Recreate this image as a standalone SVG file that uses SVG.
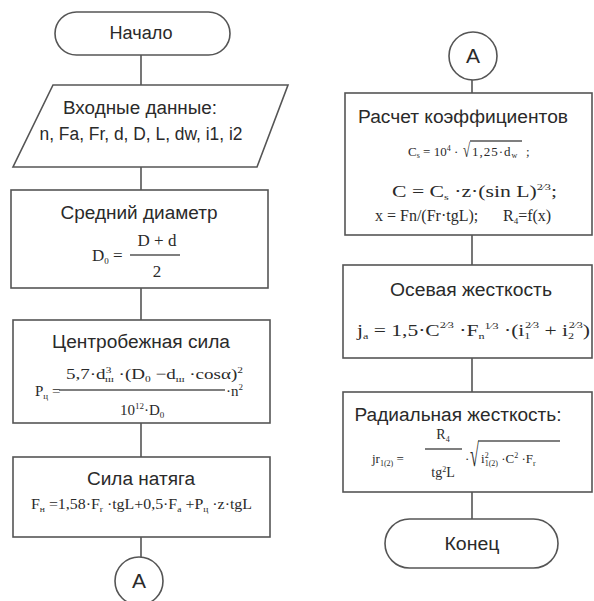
<svg xmlns="http://www.w3.org/2000/svg" width="594" height="601" viewBox="0 0 594 601">
<style>
.ln{stroke:#555;stroke-width:1.6;fill:none}
.sh{fill:#fff;stroke:#555;stroke-width:1.6}
.t{font-family:"Liberation Sans",Arial,sans-serif;font-size:18px;fill:#2a2a2a;text-anchor:middle}
.m{font-family:"Liberation Serif","Times New Roman",serif;font-size:15px;fill:#2a2a2a}
.s{font-size:9px}
.s7{font-size:8px}
.s8{font-size:8px}
.c{text-anchor:middle}
</style>
<rect width="594" height="601" fill="#fff"/>
<g id="connectors">
<path class="ln" d="M141 55V85M141 167V190M141 288V320M141 423V457M141 537V557"/>
<path class="ln" d="M472 80V93M472 235V265M472 358V392M472 492V519"/>
</g>
<g id="start">
<rect class="sh" x="55" y="12" width="175" height="43" rx="21.5"/>
<text class="t" x="141" y="39" textLength="63" lengthAdjust="spacingAndGlyphs">Начало</text>
</g>
<g id="input">
<polygon class="sh" points="53,85 288,85 257,167 13,167"/>
<text class="t" x="140" y="114" textLength="154" lengthAdjust="spacingAndGlyphs">Входные данные:</text>
<text class="t" x="141" y="140" textLength="203" lengthAdjust="spacingAndGlyphs">n, Fa, Fr, d, D, L, dw, i1, i2</text>
</g>
<g id="mean-diameter">
<rect class="sh" x="11" y="190" width="257" height="98"/>
<text class="t" x="139" y="219" textLength="157" lengthAdjust="spacingAndGlyphs">Средний диаметр</text>
<text class="m" x="92" y="261" style="font-size:17px">D<tspan class="s" dy="3">0</tspan><tspan dy="-3"> =</tspan></text>
<line class="ln" x1="130" y1="255" x2="180" y2="255" stroke-width="1.2"/>
<text class="m c" x="157" y="246" style="font-size:17px">D + d</text>
<text class="m c" x="157" y="277" style="font-size:17px">2</text>
</g>
<g id="centrifugal">
<rect class="sh" x="13" y="320" width="257" height="103"/>
<text class="t" x="141" y="348" textLength="178" lengthAdjust="spacingAndGlyphs">Центробежная сила</text>
<text class="m" x="35" y="396">P<tspan class="s" dy="3">ц</tspan><tspan dy="-3"> =</tspan></text>
<line class="ln" x1="59" y1="390" x2="225" y2="390" stroke-width="1.2"/>
<text class="m" x="66" y="379" textLength="177" lengthAdjust="spacingAndGlyphs">5,7·d<tspan class="s" dy="-6">3</tspan><tspan class="s" dx="-5" dy="9">ш</tspan><tspan dy="-3"> ·(D</tspan><tspan class="s" dy="3">0</tspan><tspan dy="-3"> −d</tspan><tspan class="s" dy="3">ш</tspan><tspan dy="-3"> ·cosα)</tspan><tspan class="s" dy="-6">2</tspan></text>
<text class="m" x="120" y="415">10<tspan class="s" dy="-6">12</tspan><tspan dy="6">·D</tspan><tspan class="s" dy="3">0</tspan></text>
<text class="m" x="226" y="396">·n<tspan class="s" dy="-6">2</tspan></text>
</g>
<g id="tension">
<rect class="sh" x="13" y="457" width="257" height="80"/>
<text class="t" x="141" y="485" textLength="108" lengthAdjust="spacingAndGlyphs">Сила натяга</text>
<text class="m" x="31" y="509" textLength="221" lengthAdjust="spacingAndGlyphs">F<tspan class="s" dy="3">н</tspan><tspan dy="-3"> =1,58·F</tspan><tspan class="s" dy="3">r</tspan><tspan dy="-3"> ·tgL+0,5·F</tspan><tspan class="s" dy="3">a</tspan><tspan dy="-3"> +P</tspan><tspan class="s" dy="3">ц</tspan><tspan dy="-3"> ·z·tgL</tspan></text>
</g>
<g id="connector-a-bottom">
<circle class="sh" cx="139" cy="581" r="24"/>
<text class="t" x="139" y="588" style="font-size:21px">A</text>
</g>
<g id="connector-a-top">
<circle class="sh" cx="473" cy="56" r="24"/>
<text class="t" x="473" y="63" style="font-size:21px">A</text>
</g>
<g id="coefficients">
<rect class="sh" x="345" y="93" width="247" height="142"/>
<text class="t" x="463" y="123" textLength="210" lengthAdjust="spacingAndGlyphs">Расчет коэффициентов</text>
<text class="m" x="408" y="156" style="font-size:13px">C<tspan class="s7" dy="2">s</tspan><tspan dy="-2"> = 10</tspan><tspan class="s7" dy="-5">4</tspan><tspan dy="5"> ·</tspan></text>
<text class="m" transform="translate(463 157) scale(1 1.5)" style="font-size:13px">√</text>
<line class="ln" x1="470" y1="141" x2="522" y2="141" stroke-width="1"/>
<text class="m" x="472" y="156" style="font-size:13px;letter-spacing:1px">1,25·d<tspan class="s7" dy="2">w</tspan></text>
<text class="m" x="526" y="156" style="font-size:13px">;</text>
<text class="m" x="392" y="197" style="font-size:16px" textLength="165" lengthAdjust="spacingAndGlyphs">C = C<tspan class="s" dy="3">s</tspan><tspan dy="-3"> ·z·(sin L)</tspan><tspan class="s" dy="-7">2⁄3</tspan><tspan dy="7">;</tspan></text>
<text class="m" x="375" y="221" style="font-size:16px">x = Fn/(Fr·tgL);<tspan x="503">R</tspan><tspan class="s" dy="3">4</tspan><tspan dy="-3">=f(x)</tspan></text>
</g>
<g id="axial-stiffness">
<rect class="sh" x="343" y="265" width="249" height="93"/>
<text class="t" x="471" y="296" textLength="162" lengthAdjust="spacingAndGlyphs">Осевая жесткость</text>
<text class="m" x="357" y="336" style="font-size:16px" textLength="233" lengthAdjust="spacingAndGlyphs">j<tspan class="s" dy="3">a</tspan><tspan dy="-3"> = 1,5·C</tspan><tspan class="s" dy="-8">2⁄3</tspan><tspan dy="8"> ·F</tspan><tspan class="s" dy="3">n</tspan><tspan class="s" dy="-10">1⁄3</tspan><tspan dy="7"> ·(i</tspan><tspan class="s" dy="3">1</tspan><tspan class="s" dx="-4" dy="-11">2⁄3</tspan><tspan dy="8"> + i</tspan><tspan class="s" dy="3">2</tspan><tspan class="s" dx="-4" dy="-11">2⁄3</tspan><tspan dy="8">)</tspan></text>
</g>
<g id="radial-stiffness">
<rect class="sh" x="343" y="392" width="249" height="100"/>
<text class="t" x="458" y="421" textLength="207" lengthAdjust="spacingAndGlyphs">Радиальная жесткость:</text>
<text class="m" x="372" y="463" style="font-size:13px">jr<tspan class="s8" dy="3">1(2)</tspan><tspan dy="-3"> =</tspan></text>
<text class="m c" x="443" y="439" style="font-size:14px">R<tspan class="s8" dy="3">4</tspan></text>
<line class="ln" x1="425" y1="449" x2="462" y2="449" stroke-width="1.1"/>
<text class="m c" x="443" y="477" style="font-size:14px">tg<tspan class="s8" dy="-5">2</tspan><tspan dy="5">L</tspan></text>
<text class="m" x="465" y="463" style="font-size:13px">·</text>
<text class="m" transform="translate(470 466) scale(1 2)" style="font-size:16px">√</text>
<line class="ln" x1="478" y1="441" x2="560" y2="441" stroke-width="1"/>
<text class="m" x="481" y="463" style="font-size:13px">i<tspan class="s8" dy="-5">2</tspan><tspan class="s8" dx="-4" dy="8">1(2)</tspan><tspan dy="-3"> ·C</tspan><tspan class="s8" dy="-5">2</tspan><tspan dy="5"> ·F</tspan><tspan class="s8" dy="3">r</tspan></text>
</g>
<g id="end">
<rect class="sh" x="385" y="519" width="173" height="49" rx="24.5"/>
<text class="t" x="472" y="550" textLength="55" lengthAdjust="spacingAndGlyphs">Конец</text>
</g>
</svg>
